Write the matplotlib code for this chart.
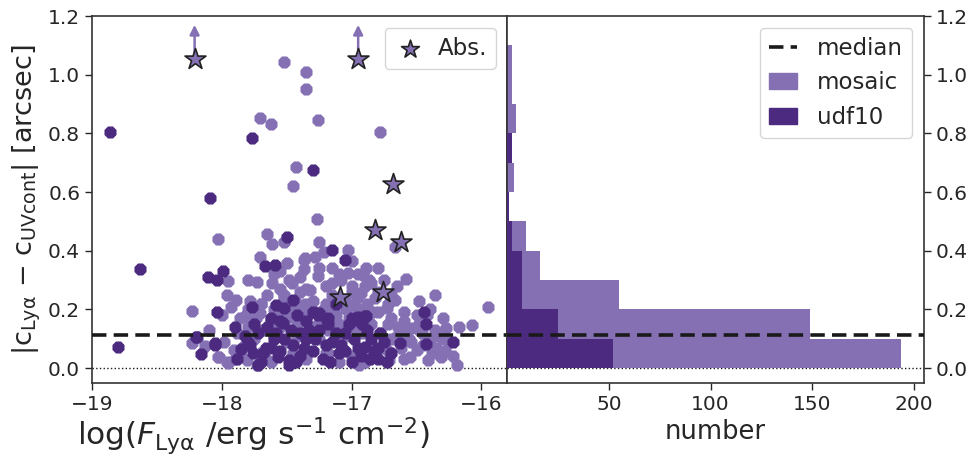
import numpy as np
import matplotlib
matplotlib.use("Agg")
import matplotlib.pyplot as plt
import seaborn as sns
from matplotlib.patches import Patch
from matplotlib.lines import Line2D

sns.set_style("ticks")
plt.rcParams['font.family'] = ['DejaVu Sans']
plt.rcParams['mathtext.fontset'] = 'dejavusans'

# --- data ---
# mosaic sample (light purple): log flux, offset [arcsec]
mosaic_x = [-17.52, -17.35, -17.35, -17.71, -17.62, -17.26, -16.78, -17.43, -17.45, -17.27,
            -17.52, -17.25, -17.03, -17.21, -16.67, -17.36, -18.03, -17.65, -17.61, -17.71,
            -17.95, -17.37, -17.00, -17.37, -17.26, -17.48, -17.61, -17.73, -17.32, -17.52,
            -18.23, -17.89, -17.96, -16.89, -16.80, -16.87, -16.58, -16.48, -16.36, -15.95,
            -17.03, -16.91, -16.93, -16.67, -17.46,
            -17.37, -17.22, -17.14, -17.05, -16.99, -16.84, -16.73, -17.82, -17.71, -17.62, -17.55,
            -16.58, -16.48, -16.36, -16.27, -16.17, -16.07, -16.54, -16.31, -16.41, -16.19,
            -16.73, -16.71, -16.55, -16.50,
            -18.23, -18.13, -18.02, -17.95, -18.03, -17.96, -17.91, -17.81, -17.73,
            -17.88, -17.80, -17.75, -17.68, -17.60, -17.55, -17.50, -17.42, -17.38, -17.30,
            -17.25, -17.18, -17.10, -17.05, -16.98, -16.92, -16.85, -16.78, -16.72, -16.65,
            -16.60, -16.45, -16.40, -16.35, -16.25,
            -17.85, -17.70, -17.62, -17.45, -17.35, -17.20, -17.10, -17.00, -16.90, -16.82, -16.60,
            -17.80, -17.45, -17.30, -17.15, -17.00, -16.80, -16.60, -16.50, -16.40, -16.30,
            -17.65, -17.40, -17.20, -16.95, -16.70, -17.08, -17.15, -16.75, -17.55,
            -18.10, -18.00, -17.93, -17.86, -17.78, -17.70, -17.60, -17.52, -17.44, -17.36,
            -17.28, -17.20, -17.12, -17.04, -16.96, -16.88, -16.80, -16.72, -16.64, -16.56,
            -16.48, -16.42, -16.34, -16.28, -16.22,
            -17.98, -17.90, -17.82, -17.74, -17.66, -17.58, -17.50, -17.42, -17.34, -17.26,
            -17.18, -17.10, -17.02, -16.94, -16.86, -16.78, -16.70, -16.62, -16.54, -16.46,
            -16.38, -16.30,
            -17.60, -17.50, -17.25, -17.10, -16.90, -16.65, -17.80, -17.40, -16.85, -17.35,
            -17.15, -16.95, -17.70, -17.55, -17.28, -16.70, -17.00, -16.82]
mosaic_y = [1.043, 1.010, 0.952, 0.853, 0.832, 0.845, 0.805, 0.687, 0.620, 0.510,
            0.430, 0.430, 0.404, 0.395, 0.412, 0.377, 0.440, 0.457, 0.422, 0.380,
            0.297, 0.370, 0.366, 0.339, 0.313, 0.300, 0.290, 0.292, 0.267, 0.244,
            0.196, 0.233, 0.250, 0.341, 0.341, 0.301, 0.304, 0.229, 0.248, 0.207,
            0.324, 0.318, 0.255, 0.233, 0.290,
            0.210, 0.199, 0.204, 0.233, 0.216, 0.193, 0.204, 0.176, 0.187, 0.164, 0.180,
            0.136, 0.130, 0.130, 0.136, 0.141, 0.147, 0.136, 0.039, 0.027, 0.012,
            0.062, 0.027, 0.039, 0.062,
            0.085, 0.076, 0.037, 0.016, 0.037, 0.022, 0.062, 0.027, 0.010,
            0.120, 0.140, 0.100, 0.130, 0.110, 0.140, 0.090, 0.150, 0.120, 0.140,
            0.100, 0.130, 0.150, 0.110, 0.140, 0.120, 0.150, 0.120, 0.150, 0.110,
            0.160, 0.080, 0.100, 0.070, 0.090,
            0.040, 0.050, 0.020, 0.050, 0.030, 0.050, 0.020, 0.040, 0.020, 0.040, 0.030,
            0.200, 0.200, 0.230, 0.250, 0.280, 0.260, 0.190, 0.180, 0.200, 0.170,
            0.250, 0.260, 0.280, 0.200, 0.170, 0.300, 0.340, 0.300, 0.330,
            0.130, 0.180, 0.210, 0.170, 0.230, 0.220, 0.200, 0.250, 0.230, 0.220,
            0.190, 0.220, 0.180, 0.200, 0.240, 0.220, 0.190, 0.220, 0.140, 0.100,
            0.150, 0.180, 0.110, 0.060, 0.040,
            0.090, 0.030, 0.080, 0.170, 0.030, 0.150, 0.170, 0.110, 0.180, 0.150,
            0.050, 0.090, 0.170, 0.010, 0.190, 0.070, 0.100, 0.070, 0.090, 0.120,
            0.050, 0.100,
            0.320, 0.360, 0.340, 0.320, 0.280, 0.280, 0.300, 0.310, 0.290, 0.270,
            0.290, 0.320, 0.220, 0.270, 0.380, 0.250, 0.260, 0.240]

# udf10 sample (dark purple)
udf_x = [-18.86, -17.77, -17.30, -18.09, -17.50, -17.15, -18.63, -18.11, -18.04, -17.99,
         -17.67, -17.59, -17.05, -17.77, -17.58, -17.52, -17.45, -17.26, -17.18, -16.95,
         -16.89, -17.12, -18.04, -16.44, -16.43, -16.22, -16.43, -16.63, -18.80, -18.20,
         -18.16, -18.05, -18.19, -18.05, -17.85, -17.76, -17.66, -17.57, -17.48, -17.53,
         -17.25, -17.19, -16.95, -16.90, -16.90, -16.80,
         -17.70, -17.60, -17.45, -17.40, -17.35, -17.30, -17.22, -17.15, -17.10, -17.05,
         -17.00, -16.95, -16.85, -16.80, -16.75, -17.25, -17.40, -17.55, -17.65, -16.70, -17.80,
         -17.88, -17.82, -17.78, -17.72, -17.68, -17.62, -17.58, -17.52, -17.47, -17.43,
         -17.37, -17.33, -17.28, -17.20, -17.17, -17.12, -17.08, -17.02, -16.98, -16.93,
         -16.88, -16.83, -16.78, -16.73,
         -17.90, -17.75, -17.55, -17.35, -17.18, -17.00, -16.86, -17.62, -17.42, -17.05,
         -16.92, -17.30, -17.48, -17.72]
udf_y = [0.806, 0.785, 0.675, 0.580, 0.446, 0.403, 0.338, 0.310, 0.300, 0.332,
         0.347, 0.353, 0.370, 0.210, 0.216, 0.204, 0.233, 0.182, 0.170, 0.174,
         0.176, 0.220, 0.190, 0.193, 0.151, 0.090, 0.082, 0.087, 0.073, 0.107,
         0.048, 0.085, 0.105, 0.079, 0.064, 0.050, 0.067, 0.039, 0.027, 0.153,
         0.187, 0.164, 0.164, 0.176, 0.073, 0.067,
         0.020, 0.100, 0.080, 0.040, 0.100, 0.060, 0.030, 0.090, 0.050, 0.120,
         0.020, 0.070, 0.100, 0.030, 0.090, 0.130, 0.120, 0.060, 0.140, 0.050, 0.090,
         0.030, 0.110, 0.080, 0.120, 0.050, 0.070, 0.120, 0.100, 0.130, 0.020,
         0.070, 0.130, 0.100, 0.080, 0.020, 0.120, 0.080, 0.150, 0.100, 0.040,
         0.130, 0.060, 0.120, 0.020,
         0.140, 0.150, 0.160, 0.160, 0.150, 0.170, 0.030, 0.170, 0.180, 0.060,
         0.150, 0.190, 0.010, 0.010]

# absorbers (stars); the first two are lower limits
abs_x = [-18.21, -16.95, -16.68, -16.82, -16.62, -16.76, -17.09]
abs_y = [1.055, 1.055, 0.627, 0.470, 0.430, 0.260, 0.243]
abs_limit = [True, True, False, False, False, False, False]

# histograms, bins of 0.1 arcsec
bin_edges = [0.0, 0.1, 0.2, 0.3, 0.4, 0.5, 0.6, 0.7, 0.8, 0.9, 1.0, 1.1]
mosaic_counts = [194, 149, 55, 16, 9, 1, 3, 0, 4, 2, 2]
udf_counts = [52, 25, 7, 7, 2, 1, 0, 2, 0, 0, 0]

median_offset = 0.113

c_mosaic = '#8470b3'
c_udf = '#4b2a7f'
ink = '#262626'

fig = plt.figure(figsize=(9.74, 4.59), dpi=100)
ax1 = fig.add_axes([0.0945, 0.166, 0.4265, 0.799])
ax2 = fig.add_axes([0.521, 0.166, 0.4275, 0.799])

# left: scatter
ax1.scatter(mosaic_x, mosaic_y, marker='8', s=88, color=c_mosaic, linewidths=0, zorder=2)
ax1.scatter(udf_x, udf_y, marker='8', s=88, color=c_udf, linewidths=0, zorder=3)
for x, y, lim in zip(abs_x, abs_y, abs_limit):
    if lim:
        ax1.annotate('', xy=(x, 1.17), xytext=(x, y),
                     arrowprops=dict(arrowstyle='-|>', color=c_mosaic, lw=1.8,
                                     mutation_scale=14, shrinkA=0, shrinkB=0), zorder=4)
ax1.scatter(abs_x, abs_y, marker='*', s=250, color=c_mosaic, edgecolors='#222222',
            linewidths=1.2, zorder=5, label='Abs.')
ax1.axhline(median_offset, color='#1a1a1a', ls=(0, (4, 2)), lw=2.6, zorder=6)
ax1.axhline(0.0, color='#1a1a1a', ls=':', lw=1.0, zorder=1)
ax1.set_xlim(-19, -15.8)
ax1.set_ylim(-0.05, 1.2)
ax1.set_xticks([-19, -18, -17, -16])
ax1.set_yticks([0.0, 0.2, 0.4, 0.6, 0.8, 1.0, 1.2])
ax1.set_xlabel(r'log($F_{\rm Ly\alpha}$ /erg s$^{-1}$ cm$^{-2}$)', fontsize=22.5, color=ink)
ax1.xaxis.set_label_coords(0.3876, -0.09)
ax1.set_ylabel(r'|c$_{\rm Ly\alpha}$ $-$ c$_{\rm UVcont}$| [arcsec]', fontsize=19.5, color=ink)
ax1.legend(loc='upper right', fontsize=16.5, markerscale=0.85, handletextpad=0.5,
           borderpad=0.4, handlelength=1.4)

# right: horizontal histograms
ax2.barh(bin_edges[:-1], mosaic_counts, height=0.1, align='edge', color=c_mosaic, lw=0, zorder=2)
ax2.barh(bin_edges[:-1], udf_counts, height=0.1, align='edge', color=c_udf, lw=0, zorder=3)
ax2.axhline(median_offset, color='#1a1a1a', ls=(0, (4, 2)), lw=2.6, zorder=6)
ax2.axhline(0.0, color='#1a1a1a', ls=':', lw=1.0, zorder=1)
ax2.set_xlim(0, 205)
ax2.set_ylim(-0.05, 1.2)
ax2.set_xticks([50, 100, 150, 200])
ax2.set_yticks([0.0, 0.2, 0.4, 0.6, 0.8, 1.0, 1.2])
ax2.yaxis.tick_right()
ax2.set_xlabel('number', fontsize=18.5, color=ink)
handles = [Line2D([0], [0], color='#1a1a1a', ls=(0, (4, 2)), lw=2.6),
           Patch(color=c_mosaic), Patch(color=c_udf)]
ax2.legend(handles, ['median', 'mosaic', 'udf10'], loc='upper right', fontsize=16.5,
           handlelength=1.2, handletextpad=0.9, borderpad=0.4, labelspacing=0.5)

for ax in (ax1, ax2):
    ax.tick_params(labelsize=14.5, colors=ink, length=5, width=1)
    for sp in ax.spines.values():
        sp.set_color('#333333')
        sp.set_linewidth(1.2)

fig.savefig('out.png', dpi=100)
